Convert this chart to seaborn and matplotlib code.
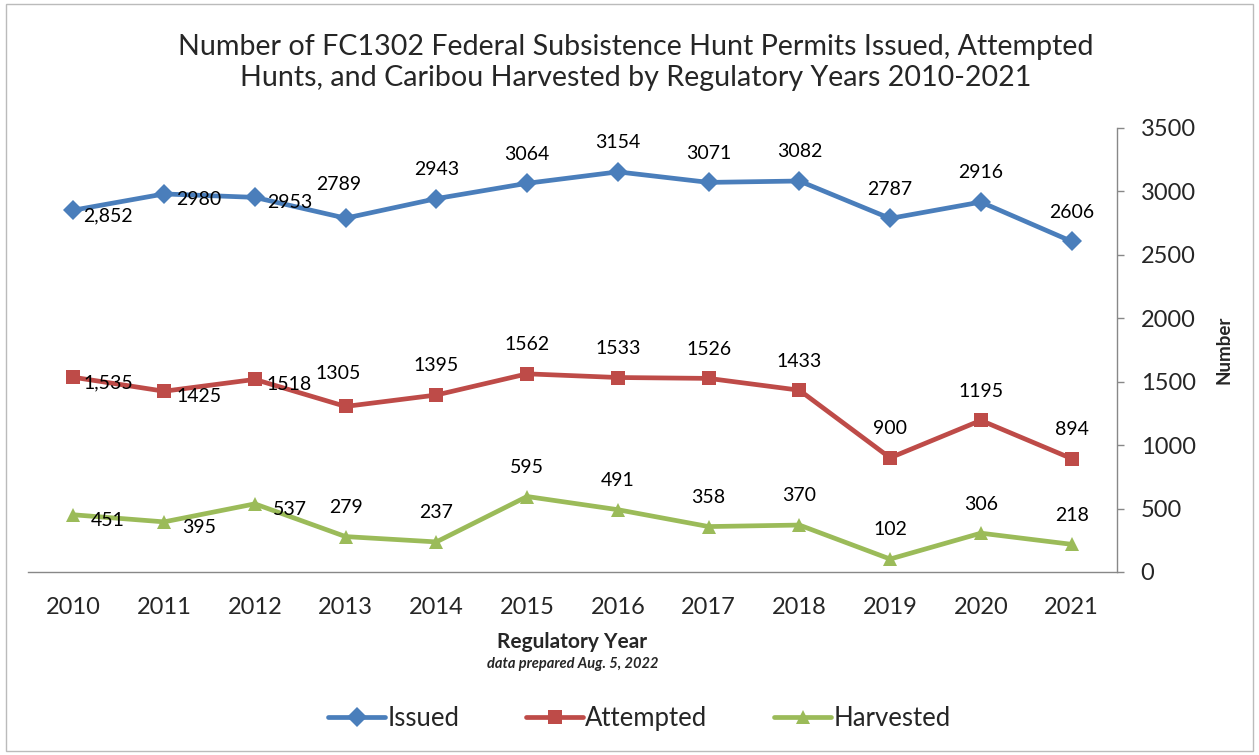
import pandas as pd
import matplotlib
matplotlib.use("Agg")
import matplotlib.pyplot as plt
import seaborn as sns
from matplotlib.patches import Rectangle

years = [2010, 2011, 2012, 2013, 2014, 2015, 2016, 2017, 2018, 2019, 2020, 2021]
issued = [2852, 2980, 2953, 2789, 2943, 3064, 3154, 3071, 3082, 2787, 2916, 2606]
attempted = [1535, 1425, 1518, 1305, 1395, 1562, 1533, 1526, 1433, 900, 1195, 894]
harvested = [451, 395, 537, 279, 237, 595, 491, 358, 370, 102, 306, 218]

issued_labels = ["2,852", "2980", "2953", "2789", "2943", "3064", "3154", "3071", "3082", "2787", "2916", "2606"]
attempted_labels = ["1,535", "1425", "1518", "1305", "1395", "1562", "1533", "1526", "1433", "900", "1195", "894"]
harvested_labels = ["451", "395", "537", "279", "237", "595", "491", "358", "370", "102", "306", "218"]

# where Excel put each data label
issued_pos = ["right", "right", "right", "aboveleft"] + ["above"] * 8
attempted_pos = ["right", "right", "right", "aboveleft"] + ["above"] * 8
harvested_pos = ["right", "right", "right"] + ["above"] * 9

series_names = ["Issued", "Attempted", "Harvested"]
colors = {"Issued": "#4A7EBB", "Attempted": "#BE4B48", "Harvested": "#9BBB59"}
markers = {"Issued": "D", "Attempted": "s", "Harvested": "^"}

df = pd.DataFrame({"Year": years, "Issued": issued, "Attempted": attempted, "Harvested": harvested})
long_df = df.melt(id_vars="Year", var_name="Series", value_name="Count")

sns.set_style("white")
plt.rcParams["font.family"] = ["Lato", "DejaVu Sans"]

fig = plt.figure(figsize=(12.59, 7.55), dpi=100)
ax = fig.add_axes([0.0222, 0.2424, 0.8650, 0.5881])

sns.lineplot(data=long_df, x="Year", y="Count", hue="Series", style="Series",
             hue_order=series_names, style_order=series_names,
             palette=colors, markers=markers, dashes=False,
             linewidth=3.4, markersize=10, markeredgewidth=0, ax=ax)

# data labels
offsets = {"right": (25, -4), "above": (0, 21), "aboveleft": (-5, 24)}
for vals, labs, pos in [(issued, issued_labels, issued_pos),
                        (attempted, attempted_labels, attempted_pos),
                        (harvested, harvested_labels, harvested_pos)]:
    for x, v, t, p in zip(years, vals, labs, pos):
        dx, dy = offsets[p]
        ax.annotate(t, (x, v), xytext=(dx, dy), textcoords="offset points",
                    ha="center", va="center", fontsize=14, color="black")

ax.set_xlim(2009.5, 2021.5)
ax.set_ylim(0, 3500)
ax.set_xticks(years)
ax.set_xticklabels([str(y) for y in years], fontsize=17)
ax.set_xticks([y - 0.5 for y in years] + [2021.5], minor=True)
ax.tick_params(axis="x", which="major", length=0, pad=18)
ax.tick_params(axis="x", which="minor", length=5, width=1, color="#888888", direction="out")

ax.yaxis.tick_right()
ax.yaxis.set_label_position("right")
ax.set_yticks(range(0, 3501, 500))
ax.tick_params(axis="y", labelsize=17, length=5, width=1, color="#888888", direction="out", pad=12)
ax.set_ylabel("Number", fontsize=13.5, fontweight="bold", labelpad=14)
ax.set_xlabel("Regulatory Year", fontsize=15, fontweight="bold", labelpad=10)

for s in ["top", "left"]:
    ax.spines[s].set_visible(False)
for s in ["bottom", "right"]:
    ax.spines[s].set_color("#888888")
    ax.spines[s].set_linewidth(1)

fig.text(0.455, 0.121, "data prepared Aug. 5, 2022", ha="center", va="center",
         fontsize=10.5, fontweight="bold", fontstyle="italic")

fig.suptitle("Number of FC1302 Federal Subsistence Hunt Permits Issued, Attempted\n"
             "Hunts, and Caribou Harvested by Regulatory Years 2010-2021",
             x=0.505, y=0.917, va="center", fontsize=20.6, linespacing=1.22)

handles, labels = ax.get_legend_handles_labels()
ax.legend(handles, labels, loc="center", bbox_to_anchor=(0.508, 0.048),
          bbox_transform=fig.transFigure, ncol=3, frameon=False, fontsize=18.5,
          handlelength=2.2, handletextpad=0.1, columnspacing=2.6)

fig.patches.append(Rectangle((0.005, 0.005), 0.99, 0.99, transform=fig.transFigure,
                             fill=False, edgecolor="#bbbbbb", linewidth=1))

fig.savefig("out.png", dpi=100)
